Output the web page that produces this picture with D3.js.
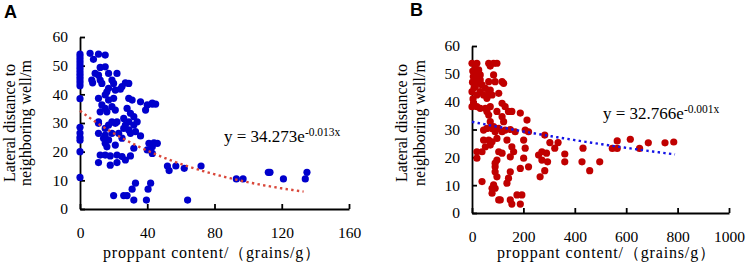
<!DOCTYPE html>
<html>
<head>
<meta charset="utf-8">
<script src="https://cdn.jsdelivr.net/npm/d3@7"></script>
<style>
  body { margin: 0; background: #fff; }
  text { font-family: "Liberation Serif", "Times New Roman", serif; }
</style>
</head>
<body>
<script>
// panel A : proppant content vs lateral distance (blue points)
var aX = [0,0,0,0,0,0,0,0,0,0,0,0,0,0,0,0,0,0,0,
  6,11,15,8,15,12,9,11,17,22,7,7.5,12,13,19,20,27,29,17,24,25,16,21,15,11,17,20,29,31,36,40,43,39,13,15,19,21,12,16,28,30,32,11,19,22,29,34,26,
  11,17,21,27,32,15,26,29,11,15,19,23,30,33,36,14,17,25,15,16,21,32,41,44,46,43,40,43,12,15,18,22,25,30,27,11,18,22,33,31,42,40.5,20,26,28,32,39.5,
  43,45,52,57,62,53,72,64,93,97,112,113,121,134,135];
var aY = [54,53,52,51,50,49,48,47,46,45,44,43,38.5,28.5,26.5,25,24,20,11,
  54.3,54,53.7,52.2,49.6,49.4,47.3,46.7,47.3,47.3,45,44,45,43.8,45,43.8,44,43.8,42.1,41.8,42.7,40.9,41.5,39.8,38.6,38,38.6,38.6,38,37.4,36.3,36.9,34.5,36.3,35.1,35.7,34.5,33.9,33.9,35.1,33.4,32.2,30.4,30.4,30.4,30.4,30.4,31.6,
  29.9,29.3,29.9,29.3,29.3,28.1,28.1,27.6,26.4,25.8,26.4,26.4,26.4,27,25.5,24.7,24.1,24.7,22.9,21.7,22.3,21.2,22.9,23.1,22.9,21.7,20.6,19.4,18.8,18.8,18.5,18.8,18.3,18.5,17.1,16.2,15.3,16.2,9,6.9,9,6.9,4.7,4.7,4.7,3.1,3.1,
  36.6,36.6,15,15,14.2,13.4,15,3.1,10.5,10.5,12.8,12.8,10.5,10.5,12.8];

// panel B : red points
var bX = [0,3,5,2,8,0,4,0,6,
  19,65,84,97,71,13,26,32,19,84,13,32,65,90,117,123,19,39,13,52,71,32,19,45,65,78,58,104,19,32,52,71,117,129,58,65,97,142,155,188,117,214,71,123,84,104,149,90,117,
  58,45,78,129,168,207,220,45,65,78,97,136,201,52,71,155,207,19,39,104,117,162,19,149,97,259,272,201,90,90,272,188,220,90,97,149,265,142,39,136,84,78,90,78,104,110,149,155,175,194,188,
  283,303,335,322,290,361,432,294,361,428,497,283,458,546,565,565,616,652,686,751,785];
var bY = [53.8,51,49,47,45,43.6,41,38.2,39.5,
  53.8,53.8,53.8,53.8,52.8,52,51.4,49.6,50.2,49.6,48.4,47.8,47.2,47.2,47.2,46.6,46.6,46,45.4,44.8,44.2,43.6,42.4,42.4,43,42.4,41.2,43,38.2,37.6,37.6,38.2,39.4,38.2,36.5,35.2,36.5,36.5,36.5,35.9,34.6,33.4,32.8,32.8,31,30.4,30,29.2,29.2,
  30.4,29.8,30.4,29.8,29.2,29.8,29.2,26.2,26.2,25.6,26.8,26.2,26.2,23.8,24.4,23.8,23.3,22,22,22,21.5,22,19.7,20.2,19,20.8,22,19.7,17.9,16.6,19,16,16.6,14.8,13,14.8,13,12.5,11.3,10.7,10.1,8.9,8.9,7.1,4.7,4.7,4.7,3.2,6.5,6.5,3.2,
  28,25.3,25.3,23.3,21.5,21.2,23.3,18.4,18.4,18.4,18.4,15.2,15.2,23.2,25.9,23.2,26.5,23.2,25.2,25.2,25.5];

// exponential trend lines: [a, k, xmax]  y = a*exp(k*x)
var fitA = [34.273, -0.013, 133];
var fitB = [32.766, -0.00056, 790];   // label shows -0.001 (rounded)

var tickY = [0,10,20,30,40,50,60];
var tickAX = [0,40,80,120,160];
var tickBX = [0,200,400,600,800,1000];

var svg = d3.select("body").append("svg")
    .attr("width", 747)
    .attr("height", 267);

function panel(opt) {
    var xscale = d3.scaleLinear().domain(opt.xdom).range(opt.xr);
    var yscale = d3.scaleLinear().domain([0,60]).range(opt.yr);

    var gx = svg.append("g")
        .attr("transform", "translate(0," + opt.yr[0] + ")")
        .call(d3.axisBottom(xscale).tickValues(opt.xt).tickFormat(d3.format("d"))
            .tickSizeInner(-5).tickSizeOuter(0).tickPadding(18));
    var gy = svg.append("g")
        .attr("transform", "translate(" + opt.xr[0] + ",0)")
        .call(d3.axisLeft(yscale).tickValues(tickY).tickSizeInner(-5).tickSizeOuter(0).tickPadding(12));
    [gx, gy].forEach(function(g) {
        g.selectAll("path, line").attr("stroke", "#000").attr("stroke-width", 1.8);
        g.selectAll("text").attr("font-size", 15.5).attr("fill", "#000")
            .style("font-family", "Liberation Serif");
    });

    svg.append("g").selectAll("circle")
        .data(opt.xs)
        .enter().append("circle")
        .attr("cx", function(d) { return xscale(d); })
        .attr("cy", function(d, i) { return yscale(opt.ys[i]); })
        .attr("r", 3.6)
        .attr("fill", opt.dot);

    var f = opt.fit;
    var pts = d3.range(0, f[2] + 0.001, f[2] / 100).map(function(x) { return [x, f[0] * Math.exp(f[1] * x)]; });
    svg.append("path")
        .datum(pts)
        .attr("fill", "none")
        .attr("stroke", opt.line)
        .attr("stroke-width", 2.4)
        .attr("stroke-dasharray", "2.4,3.3")
        .attr("d", d3.line().x(function(d) { return xscale(d[0]); }).y(function(d) { return yscale(d[1]); }));

    // equation
    var eq = svg.append("text")
        .attr("x", opt.eq[0]).attr("y", opt.eq[1])
        .attr("font-size", 17);
    eq.append("tspan").text(opt.eqText[0]);
    eq.append("tspan").attr("dy", -6).attr("font-size", 11.5).text(opt.eqText[1]);

    // axis titles
    svg.append("text")
        .attr("x", opt.xtitle[0]).attr("y", opt.xtitle[1])
        .attr("font-size", 16)
        .attr("textLength", opt.xtitle[2])
        .attr("lengthAdjust", "spacing")
        .text("proppant content/（grains/g）");
    var yt = svg.append("text")
        .attr("transform", "translate(" + opt.ytitle[0] + ",123) rotate(-90)")
        .attr("text-anchor", "middle")
        .attr("font-size", 16);
    yt.append("tspan").attr("x", 0).attr("y", 0).text("Lateral distance to");
    yt.append("tspan").attr("x", 0).attr("y", opt.ytitle[1]).text("neighboring well/m");

    svg.append("text")
        .attr("x", opt.tag[0]).attr("y", opt.tag[1])
        .style("font-family", "Liberation Sans, Arial, sans-serif")
        .attr("font-weight", "bold")
        .attr("font-size", 18)
        .text(opt.tag[2]);
}

panel({ xdom: [0,160], xr: [80,349], yr: [209,37], xt: tickAX, xs: aX, ys: aY,
        dot: "#0000cc", line: "#d9473a", fit: fitA,
        eq: [224, 142], eqText: ["y = 34.273e", "-0.013x"],
        xtitle: [103, 258, 217], ytitle: [15, 16], tag: [4, 18, "A"] });
panel({ xdom: [0,1000], xr: [472,729], yr: [213,46], xt: tickBX, xs: bX, ys: bY,
        dot: "#c00000", line: "#1414e6", fit: fitB,
        eq: [603, 119], eqText: ["y = 32.766e", "-0.001x"],
        xtitle: [497, 258, 218], ytitle: [407, 18], tag: [410, 16, "B"] });
</script>
</body>
</html>
